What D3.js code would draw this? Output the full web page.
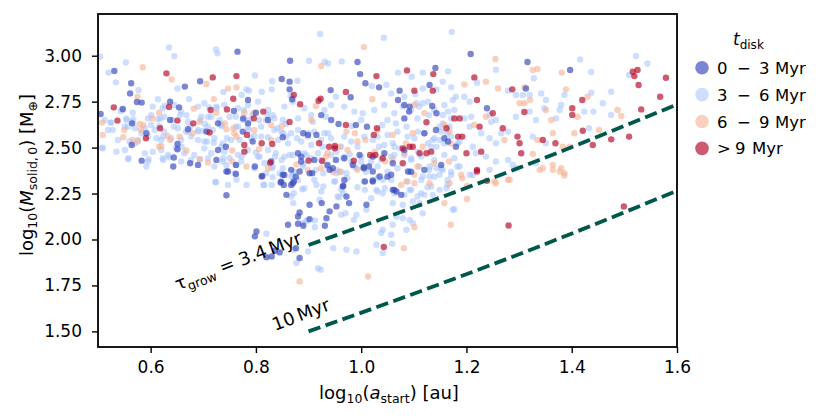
<!DOCTYPE html>
<html>
<head>
<meta charset="utf-8">
<script src="https://cdn.jsdelivr.net/npm/d3@7"></script>
<style>
  body { margin: 0; background: #fff; }
  text { font-family: "DejaVu Sans", sans-serif; fill: #000; }
</style>
</head>
<body>
<div class="chart"></div>
<script>
'use strict';

// Data: [log10(a_start), log10(M_solid,0)]
var DISK_LABELS = [['0', '\u2212', '3', 'Myr'], ['3', '\u2212', '6', 'Myr'], ['6', '\u2212', '9', 'Myr'], ['>', '9', 'Myr']];
var DISK_COLORS = ['#3b4cc0', '#a5c3fe', '#f5b394', '#b40426'];
var DISK_ALPHA = [0.68, 0.55, 0.62, 0.66];

var X_TICKS = [0.6, 0.8, 1.0, 1.2, 1.4, 1.6];
var Y_TICKS = [1.50, 1.75, 2.00, 2.25, 2.50, 2.75, 3.00];

// tau_grow reference lines
var GROW_X = [0.90, 1.10, 1.30, 1.60];
var GROW_34 = [1.97, 2.175, 2.39, 2.735];
var GROW_10 = [1.50, 1.705, 1.92, 2.265];

var tDisk0to3 = [[0.765,3.022],[0.865,2.973],[0.993,2.966],[0.531,2.917],[0.563,2.850],[0.694,2.861],[0.665,2.832],[0.849,2.873],[0.864,2.859],[0.998,2.900],[1.008,2.850],[1.034,2.828],[0.942,2.813],[0.980,2.774],[0.864,2.817],[0.869,2.763],[0.785,2.759],[0.758,2.699],[0.637,2.750],[0.654,2.719],[0.574,2.748],[0.583,2.745],[0.561,2.795],[0.547,2.710],[0.505,2.683],[0.565,2.632],[0.592,2.578],[0.564,2.514],[0.637,2.650],[0.651,2.520],[0.728,2.487],[0.743,2.505],[0.725,2.433],[0.675,2.415],[0.690,2.406],[0.643,2.397],[0.583,2.429],[0.776,2.659],[0.890,2.578],[0.915,2.569],[0.997,2.460],[1.015,2.397],[0.886,2.451],[0.867,2.379],[0.883,2.370],[0.902,2.360],[0.940,2.379],[1.005,2.393],[0.798,2.397],[0.812,2.346],[0.747,2.370],
  [1.208,3.009],[1.316,2.966],[1.141,2.933],[1.397,2.922],[1.130,2.841],[1.073,2.810],[1.313,2.822],[1.239,2.714],[1.180,2.505],[1.165,2.533],[1.158,2.551],[1.082,2.659],[1.092,2.723],[1.070,2.759],[1.135,2.726],[1.143,2.687],
  [0.744,2.241],[0.762,2.357],[0.744,2.370],[0.847,2.310],[0.853,2.297],[0.867,2.297],[0.872,2.316],[0.858,2.243],[0.811,2.343],[0.851,2.352],[0.883,2.147],[0.880,2.125],[0.902,2.189],[0.861,2.080],[0.880,2.086],[0.890,2.075],[0.902,2.111],[0.925,2.198],[0.940,2.153],[0.934,2.116],[0.953,2.180],[0.966,2.292],[0.972,2.234],[0.977,2.198],[0.931,2.075],[1.010,2.189],[1.007,2.316],[1.022,2.321],[0.801,2.044],[0.798,2.017],[0.836,1.939],[0.820,1.904],[0.830,1.908],[0.845,1.930],[0.876,1.953],[0.883,1.899],[1.022,2.370],[1.035,2.343],[0.907,2.361],
  [1.057,2.352],[1.063,2.270],[1.067,2.261],[1.089,2.370],
  [0.800,2.690],[0.823,2.650],[0.671,2.600],[0.706,2.587],[0.728,2.632],[0.775,2.587],[0.785,2.632],[0.794,2.533],[0.651,2.491],[0.644,2.446],[0.762,2.406],[0.829,2.424],
  [0.924,2.677],[0.943,2.650],[0.957,2.629],[0.990,2.623],[1.011,2.614],[0.851,2.556],[0.899,2.569],[0.880,2.469],[0.886,2.424],[0.911,2.433],[0.936,2.406],[0.946,2.388],[0.952,2.433],[0.968,2.442],[0.984,2.406],[1.005,2.388],[1.022,2.451],[1.044,2.469],[1.060,2.415],[1.082,2.487],[1.120,2.379],[1.152,2.406],[0.848,2.315],[0.854,2.351],[0.870,2.306],[0.876,2.342],[0.968,2.324],[0.965,2.288],[1.022,2.315],[1.050,2.342],[1.060,2.270],[1.095,2.369],[1.076,2.243],[1.120,2.578],[1.091,2.696],[1.082,2.732],[1.142,2.596]];

var tDisk3to6 = [[0.922,3.118],[1.043,3.098],[0.635,3.045],[0.645,2.998],[0.724,3.034],[0.727,3.013],[0.504,2.995],[0.901,2.973],[0.931,2.967],[0.937,2.958],[0.963,2.969],[0.553,2.964],[0.520,2.908],[0.798,2.893],[0.534,2.855],[0.651,2.822],[0.831,2.861],[0.879,2.864],[1.020,2.835],[1.048,2.842],[0.952,2.777],[0.866,2.781],[0.830,2.817],[0.811,2.804],[0.782,2.817],[0.773,2.786],[0.738,2.803],[0.787,2.810],[0.725,2.723],[0.711,2.719],[0.673,2.764],[0.614,2.763],[0.627,2.728],[0.577,2.813],[0.543,2.699],[0.554,2.659],[0.567,2.654],[0.524,2.636],[0.508,2.500],[0.551,2.614],[0.589,2.605],[0.583,2.578],[0.614,2.656],[0.616,2.618],[0.619,2.659],[0.576,2.542],[0.656,2.678],[0.644,2.614],[0.624,2.560],[0.648,2.496],[0.659,2.505],[0.675,2.614],[0.667,2.587],[0.690,2.587],[0.694,2.650],[0.709,2.668],[0.703,2.629],[0.700,2.592],[0.707,2.533],[0.720,2.527],[0.735,2.505],[0.762,2.614],[0.745,2.551],[0.769,2.542],[0.773,2.451],[0.786,2.596],[0.797,2.565],[0.823,2.556],[0.800,2.473],[0.807,2.451],[0.738,2.442],[0.694,2.437],[0.635,2.447],[0.624,2.433],[0.596,2.437],[0.558,2.442],[0.735,2.618],[0.787,2.650],[0.793,2.677],[0.806,2.650],[0.822,2.678],[0.777,2.705],[0.841,2.605],[0.857,2.629],[0.852,2.578],[0.858,2.560],[0.878,2.551],[0.899,2.578],[0.924,2.542],[0.937,2.578],[0.927,2.505],[0.953,2.478],[0.982,2.618],[1.040,2.623],[1.000,2.424],[0.978,2.464],[0.966,2.442],[0.896,2.458],[0.890,2.411],[0.870,2.351],[0.864,2.460],[0.918,2.469],[0.836,2.451],[0.849,2.433],[0.830,2.388],[0.820,2.361],[0.954,2.379],[0.972,2.361],[0.991,2.388],[1.034,2.505],[0.760,2.361],[0.744,2.406],[0.763,2.406],
  [1.172,3.130],[1.416,2.980],[1.522,2.998],[1.544,2.958],[1.070,2.908],[1.117,2.908],[1.096,2.886],[1.165,2.915],[1.256,2.924],[1.328,2.877],[1.437,2.911],[1.509,2.895],[1.220,2.853],[1.155,2.859],[1.117,2.822],[1.103,2.792],[1.082,2.777],[1.057,2.795],[1.143,2.817],[1.171,2.828],[1.180,2.777],[1.196,2.777],[1.206,2.750],[1.244,2.678],[1.279,2.810],[1.294,2.786],[1.307,2.786],[1.320,2.786],[1.342,2.795],[1.351,2.759],[1.380,2.732],[1.386,2.786],[1.437,2.799],[1.424,2.696],[1.441,2.696],[1.475,2.804],[1.459,2.741],[1.475,2.678],[1.433,2.605],[1.370,2.659],[1.377,2.705],[1.332,2.650],[1.348,2.714],[1.320,2.696],[1.294,2.668],[1.326,2.560],[1.351,2.524],[1.332,2.415],[1.266,2.578],[1.279,2.587],[1.256,2.650],[1.247,2.641],[1.206,2.614],[1.228,2.578],[1.244,2.551],[1.256,2.524],[1.209,2.668],[1.196,2.659],[1.168,2.614],[1.163,2.578],[1.155,2.632],[1.187,2.533],[1.212,2.505],[1.218,2.469],[1.237,2.451],[1.244,2.379],[1.256,2.424],[1.149,2.542],[1.143,2.505],[1.136,2.542],[1.127,2.524],[1.108,2.478],[1.095,2.442],[1.073,2.496],[1.060,2.524],[1.063,2.460],[1.079,2.723],[1.105,2.741],[1.117,2.741],[1.127,2.750],[1.086,2.614],[1.108,2.587],[1.149,2.614],[1.155,2.678],[1.174,2.759],[1.165,2.696],[1.130,2.397],[1.143,2.388],[1.155,2.379],[1.171,2.351],[1.187,2.397],[1.212,2.351],[1.279,2.433],[1.288,2.406],[1.294,2.388],
  [0.724,2.312],[0.814,2.297],[0.830,2.297],[0.872,2.252],[0.888,2.274],[0.871,2.198],[0.867,2.343],[0.896,2.104],[0.912,2.104],[0.915,2.297],[0.928,2.288],[0.921,2.216],[0.950,2.316],[0.966,2.252],[0.958,2.230],[0.962,2.134],[0.970,2.143],[0.912,2.067],[0.986,2.107],[0.991,2.134],[1.010,2.162],[1.041,2.325],[1.041,2.252],[1.007,2.270],[1.029,2.270],[1.045,2.279],[1.041,2.053],[1.038,2.035],[1.029,1.971],[1.041,1.926],[0.972,1.944],[0.991,1.935],[0.947,1.953],[0.889,2.089],[0.899,2.104],[0.820,2.031],[0.872,1.944],[0.899,1.935],[0.877,1.872],[0.918,1.844],[0.923,1.836],[0.782,2.297],[0.763,2.325],[0.747,2.297],[0.953,2.361],[0.928,2.361],
  [1.082,2.243],[1.060,2.198],[1.079,2.189],[1.098,2.207],[1.092,2.270],[1.114,2.252],[1.067,2.125],[1.079,2.116],[1.092,2.107],[1.098,2.089],[1.086,2.053],[1.060,2.080],[1.057,2.026],[1.059,1.977],[1.117,2.143],[1.111,2.198],[1.133,2.288],[1.120,2.243],[1.136,2.243],[1.149,2.270],[1.162,2.279],[1.174,2.162],[1.177,2.165],[1.149,2.352],[1.130,2.343],[1.117,2.343],[1.206,2.352],
  [0.547,2.705],[0.566,2.690],[0.601,2.677],[0.604,2.723],[0.623,2.714],[0.645,2.732],[0.658,2.696],[0.668,2.677],[0.690,2.723],[0.702,2.741],[0.725,2.714],[0.740,2.732],[0.766,2.714],[0.785,2.732],[0.804,2.750],[0.823,2.705],[0.832,2.677],[0.513,2.650],[0.525,2.636],[0.554,2.650],[0.563,2.641],[0.595,2.659],[0.626,2.668],[0.642,2.650],[0.671,2.641],[0.696,2.668],[0.715,2.668],[0.731,2.650],[0.750,2.668],[0.762,2.668],[0.775,2.650],[0.819,2.650],[0.835,2.659],
  [0.519,2.596],[0.528,2.596],[0.557,2.614],[0.570,2.605],[0.601,2.623],[0.608,2.596],[0.626,2.587],[0.652,2.605],[0.671,2.587],[0.690,2.596],[0.709,2.614],[0.718,2.596],[0.734,2.623],[0.766,2.614],[0.785,2.614],[0.810,2.614],[0.835,2.596],[0.509,2.496],[0.538,2.542],[0.560,2.533],[0.570,2.523],[0.595,2.560],[0.611,2.551],[0.620,2.542],[0.639,2.551],[0.658,2.542],[0.677,2.560],[0.690,2.542],[0.702,2.533],[0.721,2.551],[0.737,2.523],[0.753,2.542],[0.791,2.551],[0.810,2.560],[0.842,2.542],
  [0.535,2.478],[0.551,2.487],[0.589,2.469],[0.604,2.478],[0.620,2.487],[0.633,2.460],[0.664,2.469],[0.683,2.460],[0.702,2.496],[0.715,2.469],[0.740,2.478],[0.750,2.442],[0.766,2.460],[0.785,2.487],[0.804,2.451],[0.823,2.487],[0.838,2.469],[0.557,2.437],[0.595,2.424],[0.623,2.442],[0.658,2.424],[0.677,2.433],[0.709,2.442],[0.721,2.397],[0.737,2.424],[0.772,2.424],[0.797,2.388],[0.816,2.415],[0.832,2.397],[0.845,2.360],[0.592,2.397],[0.723,2.313],[0.832,2.339],[0.816,2.297],
  [0.854,2.723],[0.870,2.750],[0.892,2.714],[0.905,2.677],[0.930,2.705],[0.943,2.732],[0.968,2.723],[0.987,2.696],[1.003,2.687],[1.025,2.705],[1.044,2.732],[1.063,2.687],[1.095,2.705],[1.110,2.723],[1.139,2.705],[1.158,2.732],[1.177,2.705],[0.851,2.650],[0.880,2.659],[0.908,2.641],[0.933,2.668],[1.000,2.650],[1.050,2.650],[1.066,2.632],[1.107,2.659],[1.129,2.677],[1.171,2.659],
  [0.848,2.587],[0.867,2.578],[0.880,2.596],[0.899,2.560],[0.911,2.587],[0.930,2.578],[0.943,2.551],[0.968,2.560],[0.981,2.533],[1.006,2.560],[1.022,2.542],[1.031,2.560],[1.050,2.569],[1.069,2.587],[1.088,2.560],[1.101,2.551],[1.120,2.578],[1.139,2.551],[1.152,2.587],[1.171,2.560],[1.183,2.523],[0.861,2.523],[0.886,2.533],[0.905,2.514],[0.962,2.505],[0.993,2.505],[1.044,2.514],[1.063,2.505],[1.133,2.505],[1.158,2.523],
  [0.854,2.451],[0.870,2.460],[0.892,2.469],[0.905,2.442],[0.924,2.433],[0.943,2.460],[0.968,2.451],[0.981,2.424],[1.000,2.451],[1.019,2.424],[1.038,2.433],[1.057,2.451],[1.082,2.460],[1.095,2.433],[1.114,2.451],[1.139,2.433],[1.158,2.460],[1.177,2.442],[0.851,2.388],[0.873,2.369],[0.889,2.397],[0.914,2.379],[0.936,2.397],[0.962,2.369],[0.987,2.397],[1.009,2.369],[1.031,2.397],[1.050,2.369],[1.069,2.388],[1.091,2.369],[1.110,2.397],[1.129,2.379],[1.152,2.388],[1.171,2.369],
  [0.880,2.324],[0.911,2.324],[0.949,2.315],[0.974,2.333],[1.006,2.315],[1.031,2.333],[1.057,2.324],[1.088,2.315],[1.114,2.324],[1.139,2.342],[1.164,2.324],[1.183,2.397],[0.892,2.279],[0.924,2.261],[0.962,2.270],[0.993,2.284],[1.031,2.261],[1.063,2.252],[1.095,2.270],[1.126,2.284],[1.164,2.297],[0.867,2.234],[0.955,2.234],[1.019,2.225],[1.107,2.234]];

var tDisk6to9 = [[1.005,3.047],[0.585,2.937],[0.924,2.944],[0.640,2.871],[0.706,2.846],[1.021,2.763],[0.763,2.828],[0.747,2.821],[0.720,2.764],[0.682,2.712],[0.575,2.777],[0.508,2.636],[0.509,2.569],[0.550,2.596],[0.586,2.623],[0.603,2.659],[0.566,2.542],[0.548,2.556],[0.632,2.563],[0.637,2.542],[0.616,2.505],[0.620,2.509],[0.668,2.484],[0.744,2.600],[0.757,2.605],[0.763,2.560],[0.709,2.418],[0.741,2.632],[0.849,2.618],[0.972,2.587],[0.988,2.578],[1.008,2.542],[1.026,2.478],[0.877,2.408],[1.046,2.424],[0.782,2.397],
  [1.255,2.982],[1.326,2.922],[1.335,2.928],[1.381,2.908],[1.196,2.844],[1.237,2.859],[1.260,2.822],[1.310,2.828],[1.301,2.741],[1.310,2.741],[1.321,2.759],[1.389,2.817],[1.430,2.777],[1.411,2.668],[1.487,2.705],[1.494,2.672],[1.452,2.596],[1.361,2.650],[1.351,2.705],[1.335,2.542],[1.364,2.578],[1.383,2.505],[1.396,2.505],[1.405,2.578],[1.326,2.466],[1.345,2.388],[1.364,2.406],[1.380,2.388],[1.386,2.361],[1.237,2.668],[1.215,2.623],[1.272,2.542],[1.168,2.587],[1.117,2.505],[1.098,2.578],
  [0.883,1.772],[1.013,1.799],
  [1.086,2.316],[1.076,2.297],[1.101,2.352],[1.101,2.067],[1.081,1.953],[1.130,2.306],[1.158,2.198],[1.168,2.306],[1.170,2.080],[1.190,2.352],[1.192,2.334],[1.201,2.292],[1.201,2.220],[1.256,2.306],[1.253,2.316],[1.279,2.325],[1.282,2.325],[1.339,2.379],[1.364,2.379],[1.377,2.370],[1.386,2.348],
  [0.616,2.690],[0.725,2.690],[0.778,2.690],[0.796,2.690],[0.579,2.629],[0.693,2.641],[0.829,2.623],[0.581,2.596],[0.655,2.560],[0.680,2.578],[0.759,2.578],[0.797,2.596],[0.829,2.542],[0.576,2.533],[0.693,2.437],[0.755,2.484],[0.755,2.424],[0.806,2.491],[0.823,2.388],
  [0.914,2.726],[0.905,2.650],[1.031,2.596],[0.993,2.533],[0.936,2.469],[0.933,2.451],[0.959,2.505],[0.974,2.487],[0.899,2.379],[0.924,2.388],[0.959,2.369],[0.946,2.369],[0.993,2.379],[1.060,2.433],[1.082,2.469],[1.107,2.397],[1.139,2.415],[1.167,2.424],[1.101,2.306],[1.060,2.569],[1.085,2.523],[1.170,2.523],[1.158,2.623],[1.101,2.732],[1.120,2.687]];

var tDiskOver9 = [[0.630,2.904],[0.718,2.882],[0.763,2.889],[1.029,2.889],[0.971,2.803],[0.923,2.766],[0.919,2.755],[0.872,2.786],[0.884,2.736],[0.757,2.766],[0.745,2.708],[0.714,2.705],[0.635,2.721],[0.530,2.719],[0.537,2.647],[0.618,2.605],[0.591,2.551],[0.651,2.647],[0.681,2.632],[0.712,2.582],[0.778,2.514],[0.778,2.478],[0.783,2.569],[0.811,2.524],[0.831,2.520],[0.814,2.696],[0.796,2.659],[0.864,2.640],[0.920,2.524],[0.939,2.505],[0.950,2.509],[0.950,2.496],[0.971,2.623],[1.024,2.569],[1.030,2.605],[1.017,2.460],[1.027,2.460],[0.986,2.429],[0.900,2.429],[0.827,2.418],[0.926,2.427],[1.041,2.442],
  [1.087,2.920],[1.137,2.900],[1.516,2.913],[1.525,2.922],[1.519,2.889],[1.579,2.880],[1.215,2.882],[1.101,2.810],[1.136,2.810],[1.220,2.759],[1.250,2.687],[1.287,2.817],[1.420,2.759],[1.401,2.714],[1.401,2.678],[1.421,2.592],[1.440,2.514],[1.527,2.841],[1.532,2.708],[1.568,2.777],[1.509,2.560],[1.475,2.545],[1.310,2.694],[1.297,2.560],[1.301,2.524],[1.304,2.469],[1.345,2.542],[1.369,2.524],[1.269,2.605],[1.225,2.614],[1.177,2.659],[1.187,2.659],[1.162,2.605],[1.184,2.560],[1.192,2.560],[1.200,2.469],[1.228,2.478],[1.220,2.379],[1.133,2.478],[1.124,2.469],[1.111,2.469],[1.098,2.505],[1.092,2.505],[1.079,2.496],[1.079,2.415],
  [1.043,1.959],[1.220,2.370],[1.239,2.319],[1.280,2.076],[1.499,2.180],[1.124,2.638]];

var GROUPS = [tDisk0to3, tDisk3to6, tDisk6to9, tDiskOver9];
var DRAW_ORDER = [1, 2, 0, 3];

var width = 830, height = 420;
var plot = { left: 98, right: 677, top: 14, bottom: 347 };

var x = d3.scaleLinear().domain([0.5, 1.6]).range([plot.left, plot.right]);
var y = d3.scaleLinear().domain([1.415, 3.227]).range([plot.bottom, plot.top]);

var svg = d3.select('.chart').append('svg')
  .attr('width', width)
  .attr('height', height);

svg.append('defs').append('clipPath').attr('id', 'plot-clip')
  .append('rect')
  .attr('x', plot.left).attr('y', plot.top)
  .attr('width', plot.right - plot.left).attr('height', plot.bottom - plot.top);

var marks = svg.append('g').attr('clip-path', 'url(#plot-clip)');

// scatter, one layer per disk lifetime bin
DRAW_ORDER.forEach(function(g) {
  marks.append('g')
    .selectAll('circle')
    .data(GROUPS[g])
    .enter()
    .append('circle')
    .attr('cx', function(d) { return x(d[0]); })
    .attr('cy', function(d) { return y(d[1]); })
    .attr('r', 3.2)
    .style('fill', DISK_COLORS[g])
    .style('fill-opacity', DISK_ALPHA[g]);
});

// growth timescale lines
var line = d3.line()
  .x(function(d) { return x(d[0]); })
  .y(function(d) { return y(d[1]); })
  .curve(d3.curveMonotoneX);

[GROW_34, GROW_10].forEach(function(ys) {
  marks.append('path')
    .datum(GROW_X.map(function(v, i) { return [v, ys[i]]; }))
    .attr('d', line)
    .style('fill', 'none')
    .style('stroke', '#00584a')
    .style('stroke-width', 3.8)
    .style('stroke-dasharray', '12.5,5.5');
});

// line labels
var angle = -20.8;
var lab1 = svg.append('text')
  .attr('transform', 'translate(303,243) rotate(' + angle + ')')
  .attr('text-anchor', 'end')
  .style('font-size', '18px');
lab1.append('tspan').text('\u03c4');
lab1.append('tspan').attr('dy', 4).style('font-size', '12.5px').text('grow');
lab1.append('tspan').attr('dy', -4).text(' = 3.4\u2009Myr');

svg.append('text')
  .attr('transform', 'translate(275,331) rotate(' + angle + ')')
  .style('font-size', '18px')
  .text('10\u2009Myr');

// axes
var xAxis = svg.append('g')
  .attr('transform', 'translate(0,' + plot.bottom + ')')
  .call(d3.axisBottom(x).tickValues(X_TICKS).tickFormat(d3.format('.1f')).tickSize(6).tickPadding(7.5));
var yAxis = svg.append('g')
  .attr('transform', 'translate(' + plot.left + ',0)')
  .call(d3.axisLeft(y).tickValues(Y_TICKS).tickFormat(d3.format('.2f')).tickSize(6).tickPadding(10));

[xAxis, yAxis].forEach(function(a) {
  a.select('.domain').remove();
  a.selectAll('line').style('stroke', '#000').style('stroke-width', 1.4);
  a.selectAll('text').style('font-size', '17px').style('font-family', '"DejaVu Sans", sans-serif');
});

// frame
svg.append('rect')
  .attr('x', plot.left).attr('y', plot.top)
  .attr('width', plot.right - plot.left).attr('height', plot.bottom - plot.top)
  .style('fill', 'none')
  .style('stroke', '#000')
  .style('stroke-width', 1.8);

// axis titles
function addLabel(sel, parts) {
  parts.forEach(function(p) {
    var t = sel.append('tspan').text(p.t);
    if (p.sub) t.attr('dy', 3.5).style('font-size', '12.5px');
    if (p.up) t.attr('dy', -3.5);
    if (p.it) t.style('font-style', 'italic');
  });
}

var xt = svg.append('text')
  .attr('x', 389)
  .attr('y', 399)
  .attr('text-anchor', 'middle')
  .style('font-size', '18px');
addLabel(xt, [{ t: 'log' }, { t: '10', sub: true }, { t: '(', up: true }, { t: 'a', it: true },
  { t: 'start', sub: true }, { t: ') [au]', up: true }]);

var yt = svg.append('text')
  .attr('transform', 'translate(33,175) rotate(-90)')
  .attr('text-anchor', 'middle')
  .style('font-size', '18px');
addLabel(yt, [{ t: 'log' }, { t: '10', sub: true }, { t: '(', up: true }, { t: 'M', it: true },
  { t: 'solid,\u20090', sub: true }, { t: ') [M', up: true }, { t: '\u2295', sub: true }, { t: ']', up: true }]);

// legend
var legend = svg.append('g').attr('transform', 'translate(702,0)');
var lt = legend.append('text')
  .attr('x', 31).attr('y', 45)
  .style('font-size', '17px');
lt.append('tspan').style('font-style', 'italic').text('t');
lt.append('tspan').attr('dy', 4).style('font-size', '12px').text('disk');

var items = legend.selectAll('g.item')
  .data(DISK_LABELS)
  .enter()
  .append('g')
  .attr('class', 'item')
  .attr('transform', function(d, i) { return 'translate(0,' + (67.7 + i * 26.9) + ')'; });
items.append('circle')
  .attr('r', 6.8)
  .style('fill', function(d, i) { return DISK_COLORS[i]; })
  .style('fill-opacity', function(d, i) { return DISK_ALPHA[i]; });

// mathtext-like spacing around the operator
var SLOT_RANGE = [15, 35, 57, 73];
var SLOT_GT = [15, 33, 50];
items.each(function(parts) {
  var slots = parts.length === 4 ? SLOT_RANGE : SLOT_GT;
  var g = d3.select(this);
  parts.forEach(function(p, j) {
    g.append('text')
      .attr('x', slots[j])
      .attr('y', 6)
      .style('font-size', '16.5px')
      .text(p);
  });
});
</script>
</body>
</html>
